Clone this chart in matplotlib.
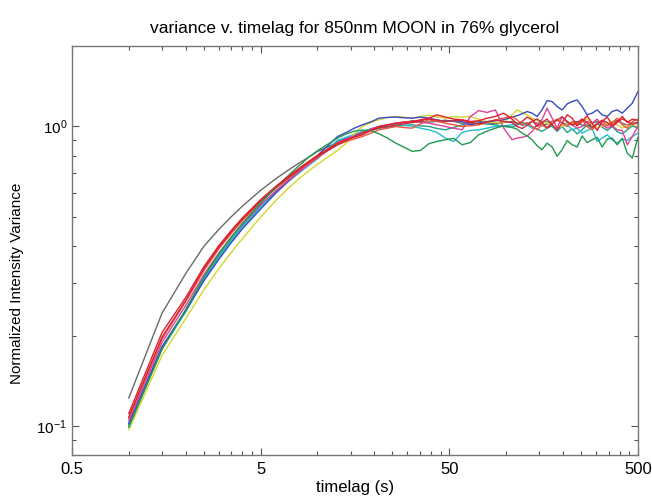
import matplotlib

matplotlib.use("Agg")
import matplotlib.pyplot as plt
from matplotlib.ticker import FixedLocator, LogLocator, NullFormatter

plt.rcParams["font.family"] = ["Liberation Sans", "DejaVu Sans"]
plt.rcParams["mathtext.fontset"] = "custom"
plt.rcParams["mathtext.rm"] = "Liberation Sans"

# time lags (s): dense start, then the long noisy plateau
t_early = [1, 1.5, 2, 2.5, 3, 3.5, 4, 5, 6, 7, 8, 9, 10]
t_late = [12.8, 14.2, 15.7, 17.3, 19.2, 21.2, 23.5, 26, 28.7, 31.8, 35.2, 39, 43,
          47.7, 52.8, 58.5, 64.7, 71.6, 79.3, 87.8, 97.2, 107.6,
          114.4, 121.6, 129.3, 137.4, 146, 155, 165, 175.5, 186.5, 198, 211, 224,
          238, 253, 269, 286, 304, 323, 344, 365, 388, 413, 439, 467, 500]
timelag = t_early + t_late

# normalized variance, one list per measurement
gray = [0.124, 0.238, 0.322, 0.398, 0.453, 0.50, 0.542, 0.612, 0.668, 0.715, 0.755, 0.79, 0.825,
        0.885, 0.915, 0.94, 0.96, 0.98, 0.995, 1.01, 1.02, 1.03, 1.045, 1.04, 1.035, 1.04, 1.05,
        1.04, 1.025, 1.03, 1.04, 1.03, 1.02, 1.03, 1.04,
        1.025, 1.01, 1.02, 1.04, 1.025, 1.005, 1.02, 1.04, 1.05, 1.03, 1.015, 1.025, 1.04, 1.01,
        1.0, 1.025, 1.04, 1.02, 1.005, 1.03, 1.05, 1.025, 1.01, 1.03, 1.02]
red = [0.110, 0.205, 0.268, 0.34, 0.40, 0.45, 0.495, 0.57, 0.63, 0.68, 0.725, 0.765, 0.80,
       0.88, 0.903, 0.92, 0.938, 0.97, 1.0, 1.013, 1.026, 1.034, 1.039, 1.053, 1.066, 1.094, 1.075,
       1.058, 1.053, 1.039, 1.045, 1.066, 1.08, 1.108, 1.058,
       1.02, 1.039, 1.075, 1.053, 1.0, 1.031, 1.058, 1.013, 0.97, 1.026, 1.094, 1.066, 1.005, 1.039,
       1.086, 1.026, 0.97, 1.039, 1.075, 1.013, 1.039, 1.08, 1.031, 1.058, 1.048]
orange = [0.106, 0.195, 0.26, 0.33, 0.39, 0.44, 0.485, 0.56, 0.62, 0.67, 0.715, 0.755, 0.79,
          0.869, 0.891, 0.908, 0.926, 0.95, 0.975, 0.987, 1.0, 0.992, 0.987, 1.021, 1.053, 1.039, 1.026,
          1.013, 1.0, 1.005, 1.013, 1.031, 1.053, 1.066, 1.08,
          1.053, 1.013, 1.031, 1.0, 0.975, 1.013, 0.987, 1.039, 1.058, 1.026, 1.0, 1.039, 1.013, 1.053,
          1.0, 0.975, 1.021, 1.045, 1.005, 1.031, 1.066, 1.013, 0.987, 1.039, 1.058]
magenta = [0.104, 0.19, 0.252, 0.32, 0.378, 0.428, 0.472, 0.548, 0.608, 0.66, 0.705, 0.748, 0.785,
           0.884, 0.908, 0.93, 0.955, 0.98, 1.0, 1.013, 1.026, 1.034, 1.039, 1.031, 1.026, 1.013, 1.0,
           0.987, 0.975, 1.08, 1.13, 1.114, 1.136, 0.987, 0.903,
           0.915, 0.92, 0.93, 0.962, 1.013, 1.053, 1.151, 1.066, 0.987, 1.08, 1.031, 1.013, 0.987, 1.0,
           1.039, 1.026, 1.058, 1.013, 0.987, 1.005, 0.975, 0.97, 0.869, 0.926, 1.0]
blue = [0.102, 0.184, 0.242, 0.305, 0.36, 0.41, 0.455, 0.53, 0.598, 0.655, 0.708, 0.755, 0.80,
        0.926, 0.955, 0.987, 1.013, 1.036, 1.066, 1.072, 1.075, 1.069, 1.066, 1.075, 1.066, 1.053, 1.039,
        1.045, 1.039, 1.013, 1.026, 1.039, 1.045, 1.053, 1.075,
        1.086, 1.102, 1.122, 1.108, 1.08, 1.136, 1.22, 1.211, 1.166, 1.136, 1.19, 1.211, 1.227, 1.166,
        1.094, 1.108, 1.136, 1.094, 1.08, 1.122, 1.136, 1.108, 1.151, 1.196, 1.308]
cyan = [0.100, 0.181, 0.24, 0.308, 0.364, 0.414, 0.46, 0.538, 0.602, 0.655, 0.70, 0.742, 0.78,
        0.899, 0.92, 0.94, 0.962, 0.982, 1.0, 1.008, 1.013, 1.008, 1.003, 0.987, 0.975, 0.955, 0.915,
        0.891, 0.955, 0.97, 0.975, 0.987, 1.0, 1.005, 1.013,
        1.021, 1.026, 1.013, 0.987, 1.005, 1.031, 1.039, 1.0, 0.962, 1.0, 1.013, 0.975, 0.987, 0.95,
        0.97, 0.987, 0.891, 0.915, 0.938, 0.903, 0.88, 0.908, 0.899, 0.926, 0.95]
green = [0.099, 0.18, 0.244, 0.315, 0.375, 0.428, 0.475, 0.555, 0.625, 0.685, 0.74, 0.79, 0.83,
         0.915, 0.945, 0.965, 0.972, 0.97, 0.945, 0.915, 0.88, 0.854, 0.826, 0.832, 0.876, 0.891, 0.903,
         0.913, 0.869, 0.884, 0.938, 0.965, 0.987, 1.005, 0.992,
         0.98, 0.95, 0.93, 0.903, 0.863, 0.836, 0.88, 0.854, 0.795, 0.836, 0.898, 0.869, 0.854, 0.93,
         0.884, 0.903, 0.92, 0.854, 0.908, 0.915, 0.869, 0.913, 0.815, 0.784, 0.92]
yellow = [0.097, 0.172, 0.228, 0.285, 0.335, 0.38, 0.422, 0.498, 0.565, 0.622, 0.67, 0.71, 0.748,
          0.832, 0.88, 0.945, 1.0, 1.031, 1.053, 1.072, 1.08, 1.075, 1.066, 1.08, 1.092, 1.075, 1.066,
          1.08, 1.075, 1.08, 1.058, 1.036, 1.031, 1.026, 1.094,
          1.136, 1.114, 1.094, 1.066, 1.045, 1.036, 1.026, 1.013, 0.987, 1.0, 1.021, 1.031, 1.01, 1.045,
          1.058, 1.013, 0.987, 1.005, 1.021, 1.039, 1.013, 0.987, 1.005, 1.013, 1.0]
teal = [0.101, 0.183, 0.244, 0.312, 0.37, 0.42, 0.466, 0.545, 0.608, 0.662, 0.708, 0.75, 0.79,
        0.896, 0.913, 0.93, 0.95, 0.97, 0.987, 0.995, 1.0, 1.008, 1.013, 1.005, 1.0, 0.985, 0.975,
        0.992, 1.013, 1.021, 1.026, 1.018, 1.013, 1.0, 0.995,
        1.01, 1.031, 1.021, 1.0, 0.98, 0.962, 0.987, 1.005, 0.975, 1.0, 0.955, 0.98, 0.945, 0.975,
        1.013, 0.987, 1.026, 0.995, 0.97, 1.0, 0.962, 0.945, 0.975, 1.005, 0.987]
crimson = [0.107, 0.198, 0.262, 0.335, 0.395, 0.445, 0.49, 0.565, 0.625, 0.675, 0.72, 0.76, 0.795,
           0.87, 0.9, 0.925, 0.95, 0.97, 0.99, 1.0, 1.01, 1.02, 1.03, 1.045, 1.06, 1.05, 1.04,
           1.045, 1.05, 1.03, 1.02, 1.035, 1.05, 1.04, 1.03,
           1.0, 0.985, 1.01, 1.04, 1.06, 1.03, 0.99, 1.02, 1.05, 1.075, 1.04, 1.01, 1.03, 1.06,
           1.03, 0.995, 1.02, 1.05, 1.03, 1.0, 1.03, 1.06, 1.04, 1.015, 1.035]

series = [
    (gray, "#6a6a6a"),
    (teal, "#1fa38c"),
    (cyan, "#22bcd4"),
    (yellow, "#d6d62a"),
    (blue, "#3a4bc4"),
    (magenta, "#e0409e"),
    (orange, "#f2553a"),
    (crimson, "#c8283c"),
    (green, "#1f9a4e"),
    (red, "#e3202a"),
]

fig = plt.figure(figsize=(6.52, 4.97), dpi=100)
ax = fig.add_axes([0.1104, 0.0845, 0.868, 0.822])

for ys, color in series:
    ax.plot(timelag, ys, color=color, linewidth=1.0)

ax.set_xscale("log")
ax.set_yscale("log")
ax.set_xlim(0.5, 500)
ax.set_ylim(0.08, 1.85)

ax.xaxis.set_major_locator(FixedLocator([0.5, 5, 50, 500]))
ax.set_xticklabels(["0.5", "5", "50", "500"])
minor_x = [d * s for d in (1, 10, 100) for s in (1, 1.5, 2, 2.5, 3, 3.5, 4, 4.5)]
ax.xaxis.set_minor_locator(FixedLocator(minor_x))
ax.xaxis.set_minor_formatter(NullFormatter())
ax.yaxis.set_major_locator(LogLocator(base=10))
ax.yaxis.set_minor_locator(LogLocator(base=10, subs=range(2, 10)))
ax.yaxis.set_minor_formatter(NullFormatter())

ax.tick_params(which="both", direction="in", top=True, right=True,
               color="#555555", width=0.8)
ax.tick_params(axis="x", labelsize=12, pad=5)
ax.tick_params(axis="y", labelsize=11)
ax.tick_params(which="major", length=5)
ax.tick_params(which="minor", length=3)
for spine in ax.spines.values():
    spine.set_color("#777777")
    spine.set_linewidth(1.0)

ax.set_xlabel("timelag (s)", fontsize=12, labelpad=2)
ax.set_ylabel("Normalized Intensity Variance", fontsize=11, labelpad=8)
ax.yaxis.set_label_coords(-0.085, 0.42)
ax.set_title("variance v. timelag for 850nm MOON in 76% glycerol", fontsize=12.5, pad=10)

fig.savefig("out.png", dpi=100, facecolor="white")
